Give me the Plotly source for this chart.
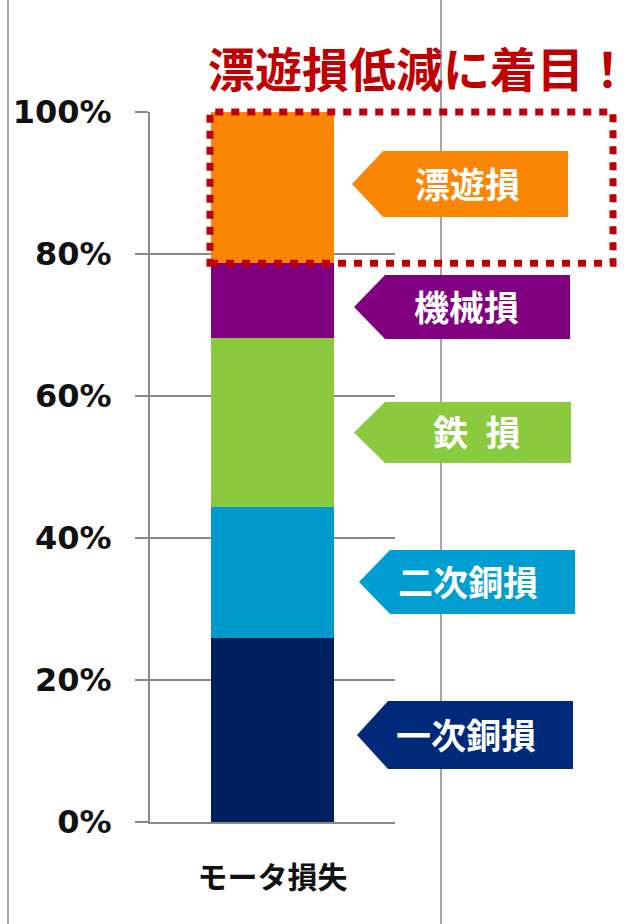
import plotly.graph_objects as go

# ---------------- data ----------------
categories = ["モータ損失"]
loss_names = ["一次銅損", "二次銅損", "鉄損", "機械損", "漂遊損"]
loss_share = [0.259, 0.184, 0.238, 0.106, 0.213]
tick_vals = [0, 0.2, 0.4, 0.6, 0.8, 1.0]
tick_text = ["0%", "20%", "40%", "60%", "80%", "100%"]
callout_text = ["一次銅損", "二次銅損", "鉄\u2002損", "機械損", "漂遊損"]
title_text = "漂遊損低減に着目！"

# ---------------- styles / layout ----------------
bar_colors = ["#001F5F", "#009ACD", "#8BC93E", "#800080", "#FB8605"]
callout_colors = ["#00297A", "#009DD0", "#8BC93E", "#800080", "#FB8605"]
grid_color = "#898989"
frame_color = "#A6A6A6"
accent_red = "#C00000"
cjk = "Noto Sans CJK JP"

W, H = 632, 924
ML, MR, MT, MB = 150, 237, 112, 102
PW = W - ML - MR
PH = H - MT - MB

def fx(px):
    return (px - ML) / PW

def fy(py):
    return (H - MB - py) / PH

# callout geometry (pixels)
callout_top = [701, 550, 402, 275, 151]
callout_bot = [769, 614, 463, 339, 217]
callout_tip = [357, 359, 354, 354, 352]
callout_right = [573, 575, 571, 570, 568]
callout_tx = [466, 468, 477, 466, 467]
notch = 31

fig = go.Figure()
for name, val, col in zip(loss_names, loss_share, bar_colors):
    fig.add_trace(go.Bar(
        x=categories, y=[val], name=name, marker=dict(color=col, line=dict(width=0)),
        width=0.5, showlegend=False, hoverinfo="skip"))

shapes = []
# frame lines
for xpx in (8, 441):
    shapes.append(dict(type="line", xref="paper", yref="paper",
                       x0=fx(xpx), x1=fx(xpx), y0=fy(-5), y1=fy(H + 5),
                       line=dict(color=frame_color, width=2), layer="below"))

# dotted highlight around the top segment
cum = 0
tops = []
for v in loss_share:
    cum += v
    tops.append(cum)
shapes.append(dict(type="rect", xref="paper", yref="paper",
                   x0=fx(210), x1=fx(613), y0=tops[3], y1=tops[4],
                   line=dict(color=accent_red, width=7, dash="8px,8px"),
                   fillcolor="rgba(0,0,0,0)", layer="above"))

annotations = []
for i in range(len(loss_names)):
    t, b = callout_top[i], callout_bot[i]
    c = (t + b) / 2
    tip, r = callout_tip[i], callout_right[i]
    pts = [(tip, c), (tip + notch, t), (r, t), (r, b), (tip + notch, b)]
    path = "M " + " L ".join(f"{fx(x):.5f},{fy(y):.5f}" for x, y in pts) + " Z"
    shapes.append(dict(type="path", xref="paper", yref="paper", path=path,
                       fillcolor=callout_colors[i], line=dict(width=0), layer="above"))
    annotations.append(dict(xref="paper", yref="paper", x=fx(callout_tx[i]), y=fy(c - 2),
                            text=callout_text[i], showarrow=False,
                            xanchor="center", yanchor="middle",
                            font=dict(family=cjk, size=35, color="white", weight="bold")))

annotations.append(dict(xref="paper", yref="paper", x=fx(419), y=fy(66),
                        text=title_text, showarrow=False, xanchor="center", yanchor="middle",
                        font=dict(family=cjk, size=47, color=accent_red, weight="bold")))

fig.update_layout(
    width=W, height=H, margin=dict(l=ML, r=MR, t=MT, b=MB),
    paper_bgcolor="white", plot_bgcolor="white",
    barmode="stack", bargap=0.5,
    shapes=shapes, annotations=annotations,
    xaxis=dict(range=[-0.5, 0.5], showgrid=False, showline=True, linecolor=grid_color,
               linewidth=2, ticks="", ticklabelstandoff=28,
               tickfont=dict(family=cjk, size=30, color="#111111", weight="bold")),
    yaxis=dict(range=[0, 1], tickvals=tick_vals, ticktext=tick_text,
               showgrid=True, gridcolor=grid_color, gridwidth=2, zeroline=False,
               showline=True, linecolor=grid_color, linewidth=2,
               ticks="outside", ticklen=13, tickwidth=2, tickcolor=grid_color,
               ticklabelstandoff=17,
               tickfont=dict(family="Verdana, DejaVu Sans", size=32, color="#111111", weight="bold")),
)

fig.write_html("out.html")
